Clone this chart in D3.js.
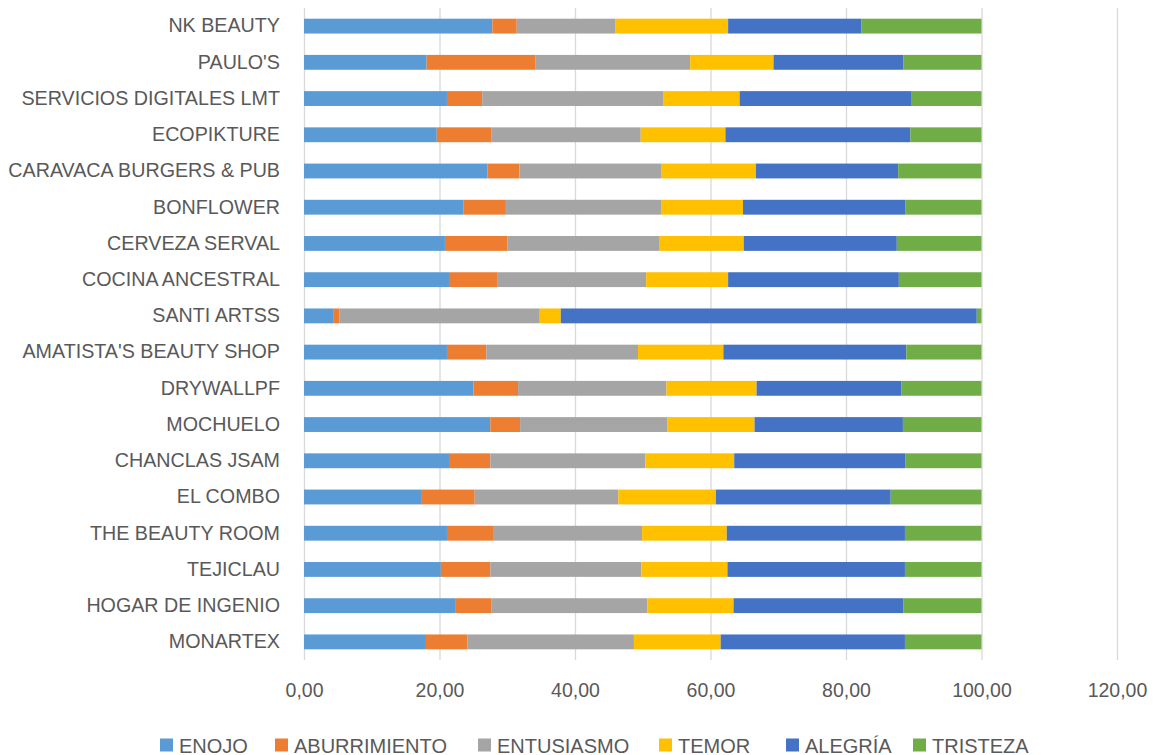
<!DOCTYPE html>
<html><head><meta charset="utf-8">
<script src="https://cdn.jsdelivr.net/npm/d3@7"></script>
<style>body{margin:0;background:#fff;} svg{display:block;}</style>
</head><body>
<svg id="c" width="1156" height="755"></svg>
<script>
const categories = ["NK BEAUTY","PAULO'S","SERVICIOS DIGITALES LMT","ECOPIKTURE","CARAVACA BURGERS & PUB","BONFLOWER","CERVEZA SERVAL","COCINA ANCESTRAL","SANTI ARTSS","AMATISTA'S BEAUTY SHOP","DRYWALLPF","MOCHUELO","CHANCLAS JSAM","EL COMBO","THE BEAUTY ROOM","TEJICLAU","HOGAR DE INGENIO","MONARTEX"];
const seriesNames = ["ENOJO","ABURRIMIENTO","ENTUSIASMO","TEMOR","ALEGRÍA","TRISTEZA"];
const enojo        = [27.8,18.1,21.1,19.6,27.1,23.5,20.8,21.4,4.4,21.1,25.0,27.5,21.4,17.4,21.1,20.2,22.3,18.0];
const aburrimiento = [3.6,16.1,5.2,8.1,4.7,6.3,9.2,7.1,0.8,5.8,6.6,4.4,6.1,7.8,6.8,7.3,5.4,6.1];
const entusiasmo   = [14.6,22.8,26.7,22.0,20.9,22.9,22.4,22.0,29.6,22.4,21.9,21.7,22.9,21.2,22.0,22.3,23.0,24.6];
const temor        = [16.6,12.3,11.3,12.5,14.0,12.1,12.5,12.1,3.1,12.6,13.3,12.9,13.1,14.4,12.5,12.7,12.7,12.8];
const alegria      = [19.7,19.2,25.4,27.3,21.0,24.0,22.6,25.2,61.4,27.0,21.4,21.9,25.3,25.8,26.3,26.2,25.1,27.2];
const tristeza     = [17.7,11.5,10.3,10.5,12.3,11.2,12.5,12.2,0.7,11.1,11.8,11.6,11.2,13.4,11.3,11.3,11.5,11.3];
const tickValues = [0,20,40,60,80,100,120];
const colors = ["#5B9BD5","#ED7D31","#A5A5A5","#FFC000","#4472C4","#70AD47"];

const seriesData = [enojo,aburrimiento,entusiasmo,temor,alegria,tristeza];
const table = categories.map((c,i)=>{const o={cat:c}; seriesNames.forEach((s,j)=>o[s]=seriesData[j][i]); return o;});
const stacked = d3.stack().keys(seriesNames)(table);

const svg = d3.select("#c");
const pL=304, pR=1117, pT=8, pB=660;
const x = d3.scaleLinear().domain([0,120]).range([pL,pR]);
const y = d3.scaleBand().domain(categories).range([pT,pB]).paddingInner(0.59).paddingOuter(0.295);
const font = "'Liberation Sans', Arial, sans-serif";

svg.append("g").selectAll("line").data(tickValues).join("line")
  .attr("x1",d=>x(d)+0.5).attr("x2",d=>x(d)+0.5).attr("y1",pT).attr("y2",pB)
  .attr("stroke","#d9d9d9").attr("stroke-width",1.3);

svg.append("g").selectAll("g").data(stacked).join("g")
  .attr("fill",(d,i)=>colors[i])
  .selectAll("rect").data(d=>d).join("rect")
  .attr("x",d=>x(d[0])).attr("width",d=>x(d[1])-x(d[0]))
  .attr("y",d=>y(d.data.cat)).attr("height",y.bandwidth());

const fmt = d=>d3.format(".2f")(d).replace(".",",");
const xa = svg.append("g").attr("transform",`translate(0,${pB})`)
  .call(d3.axisBottom(x).tickValues(tickValues).tickFormat(fmt).tickSize(0).tickPadding(23));
xa.select(".domain").remove();
xa.selectAll("text").attr("font-family",font).attr("font-size",19.5).attr("fill","#595959");

const ya = svg.append("g").attr("transform",`translate(${pL},0)`)
  .call(d3.axisLeft(y).tickSize(0).tickPadding(24));
ya.select(".domain").remove();
ya.selectAll("text").attr("font-family",font).attr("font-size",19.7).attr("fill","#595959");

const legX = [160,275,478,659,786,913];
const lg = svg.append("g").selectAll("g").data(seriesNames).join("g")
  .attr("transform",(d,i)=>`translate(${legX[i]},745)`);
lg.append("rect").attr("x",0).attr("y",-6.5).attr("width",13).attr("height",13).attr("fill",(d,i)=>colors[i]);
lg.append("text").attr("x",19).attr("y",7.5).text(d=>d)
  .attr("font-family",font).attr("font-size",20).attr("fill","#595959");
</script>
</body></html>
